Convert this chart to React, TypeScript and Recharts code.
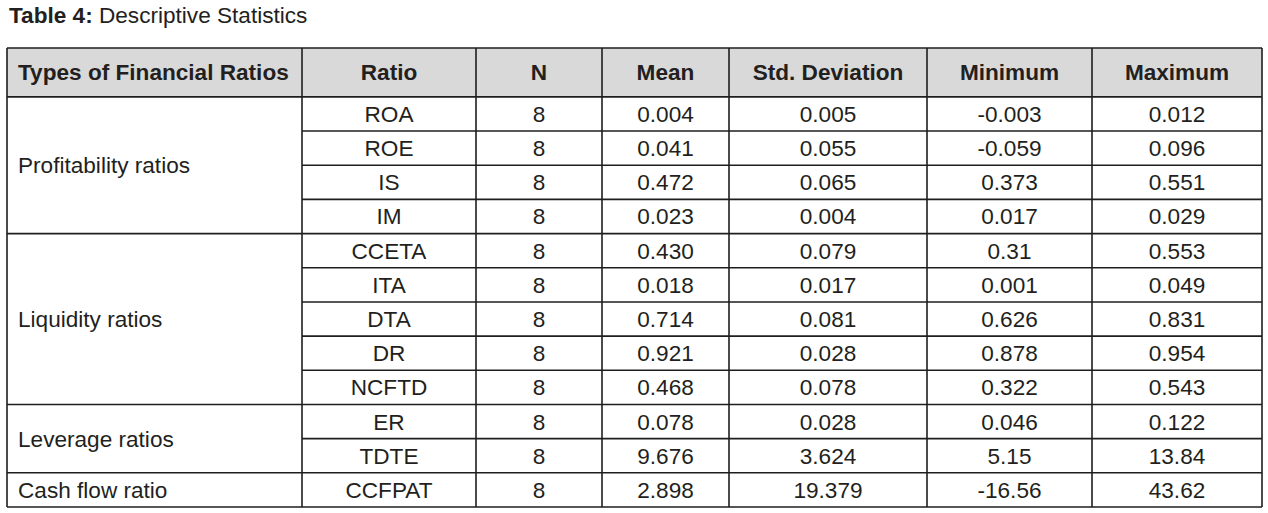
import { ScatterChart, Scatter, XAxis, YAxis, ReferenceLine, ReferenceArea, Customized } from 'recharts'

const title = 'Descriptive Statistics'
const headers = ['Types of Financial Ratios', 'Ratio', 'N', 'Mean', 'Std. Deviation', 'Minimum', 'Maximum']

const groups = ['Profitability ratios', 'Liquidity ratios', 'Leverage ratios', 'Cash flow ratio']
const groupSizes = [4, 5, 2, 1]

const ratios = ['ROA', 'ROE', 'IS', 'IM', 'CCETA', 'ITA', 'DTA', 'DR', 'NCFTD', 'ER', 'TDTE', 'CCFPAT']
const nValues = [8, 8, 8, 8, 8, 8, 8, 8, 8, 8, 8, 8]
const means = ['0.004', '0.041', '0.472', '0.023', '0.430', '0.018', '0.714', '0.921', '0.468', '0.078', '9.676', '2.898']
const stdDevs = ['0.005', '0.055', '0.065', '0.004', '0.079', '0.017', '0.081', '0.028', '0.078', '0.028', '3.624', '19.379']
const minimums = ['-0.003', '-0.059', '0.373', '0.017', '0.31', '0.001', '0.626', '0.878', '0.322', '0.046', '5.15', '-16.56']
const maximums = ['0.012', '0.096', '0.551', '0.029', '0.553', '0.049', '0.831', '0.954', '0.543', '0.122', '13.84', '43.62']

// layout (x in px along the table, y in row units)
const colEdges = [7, 302, 476, 602, 729, 927, 1092, 1262]
const headerRows = 1.43
const rowCount = ratios.length

const FONT = '"Liberation Sans", Arial, sans-serif'
const FONT_SIZE = 22.6
const INK = '#231f20'
const LINE = '#1e1e1e'

const colCenter = (i: number) => (colEdges[i] + colEdges[i + 1]) / 2

interface Cell {
  x: number
  y: number
  text: string
  bold?: boolean
  left?: boolean
}

const groupStarts = groupSizes.map((_, i) => groupSizes.slice(0, i).reduce((a, b) => a + b, 0))

const cells: Cell[] = [
  ...headers.map((h, i) => ({
    x: i === 0 ? colEdges[0] + 11 : colCenter(i),
    y: -headerRows / 2,
    text: h,
    bold: true,
    left: i === 0,
  })),
  ...groups.map((g, i) => ({
    x: colEdges[0] + 11,
    y: groupStarts[i] + groupSizes[i] / 2,
    text: g,
    left: true,
  })),
  ...ratios.flatMap((r, i) =>
    [r, String(nValues[i]), means[i], stdDevs[i], minimums[i], maximums[i]].map((t, j) => ({
      x: colCenter(j + 1),
      y: i + 0.5,
      text: t,
    }))
  ),
]

const CellText = (props: any) => {
  const { cx, cy, payload } = props
  return (
    <text
      x={cx}
      y={cy + 8}
      textAnchor={payload.left ? 'start' : 'middle'}
      fontFamily={FONT}
      fontSize={FONT_SIZE}
      fontWeight={payload.bold ? 700 : 400}
      fill={INK}
    >
      {payload.text}
    </text>
  )
}

const Title = () => (
  <text x={9} y={23} fontFamily={FONT} fontSize={FONT_SIZE} fill={INK}>
    <tspan fontWeight={700}>Table 4:</tspan> {title}
  </text>
)

// full-width separators between groups, partial lines between ratios inside a group
const groupBounds = [0, ...groupStarts.slice(1), rowCount]
const innerLines = ratios.map((_, i) => i).filter((i) => i > 0 && !groupStarts.includes(i))

export default function App() {
  return (
    <div style={{ position: 'absolute', left: 0, top: 0, background: '#fff' }}>
      <ScatterChart width={1268} height={513} margin={{ top: 48, right: 6, bottom: 6, left: 7 }}>
        <XAxis type="number" dataKey="x" domain={[colEdges[0], colEdges[colEdges.length - 1]]} hide />
        <YAxis type="number" dataKey="y" domain={[-headerRows, rowCount]} reversed hide />
        <ReferenceArea
          x1={colEdges[0]}
          x2={colEdges[colEdges.length - 1]}
          y1={-headerRows}
          y2={0}
          fill="#d9d9d9"
          fillOpacity={1}
          stroke="none"
        />
        {[-headerRows, ...groupBounds].map((y) => (
          <ReferenceLine key={'h' + y} y={y} stroke={LINE} strokeWidth={1.6} />
        ))}
        {innerLines.map((y) => (
          <ReferenceLine
            key={'s' + y}
            segment={[{ x: colEdges[1], y }, { x: colEdges[colEdges.length - 1], y }]}
            stroke={LINE}
            strokeWidth={1.6}
          />
        ))}
        {colEdges.map((x) => (
          <ReferenceLine key={'v' + x} x={x} stroke={LINE} strokeWidth={1.6} />
        ))}
        <Scatter data={cells} shape={CellText} isAnimationActive={false} />
        <Customized component={<Title />} />
      </ScatterChart>
    </div>
  )
}
